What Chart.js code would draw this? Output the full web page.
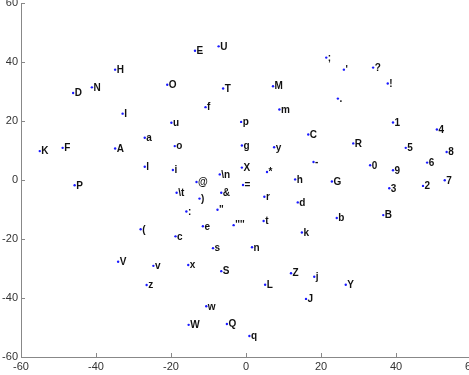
<!DOCTYPE html>
<html>
<head>
<meta charset="utf-8">
<script src="https://cdn.jsdelivr.net/npm/chart.js@4/dist/chart.umd.min.js"></script>
<style>
  html, body { margin: 0; padding: 0; background: #fff; overflow: hidden; width: 469px; height: 375px; }
  #wrap { position: absolute; left: 0; top: -20px; width: 500px; height: 400px; }
</style>
</head>
<body>
<div id="wrap"><canvas id="c" width="500" height="400"></canvas></div>
<script>
// Character embedding: each symbol is placed at its 2-D coordinate.
const symbols = [
  'H','N','D','I','E','U','O','T','M','f','m','u','p',
  ';',"'",'?','!','.','1','4',
  'K','F','A','a','l','P','(',
  'o','g','y','i','X','*','@','\\n','h','\\t','&','=',')','r','d','"',':',
  'e',"''''",'t','c','k','s','n',
  'C','R','5','8','6','-','0','9','G','7','2','3','b','B',
  'V','v','z','x','S','Z','L','w','W','Q','q','j','Y','J'
];
const xs = [
  -34.9,-41.1,-46.1,-32.9,-13.6,-7.3,-21.0,-6.1,7.2,-10.8,8.9,-19.9,-1.3,
  21.4,26.1,33.9,37.8,24.5,39.2,50.9,
  -55.0,-48.9,-34.9,-27.0,-27.0,-45.7,-28.1,
  -19.0,-1.1,7.5,-19.5,-1.1,5.6,-13.2,-7.0,13.1,-18.5,-6.6,-0.8,-12.4,4.9,13.8,-7.6,-15.9,
  -11.5,-3.3,4.7,-18.8,14.9,-8.8,1.6,
  16.6,28.6,42.6,53.5,48.3,18.0,33.1,39.2,22.9,53.0,47.2,38.2,24.2,36.6,
  -34.1,-24.7,-26.5,-15.4,-6.6,12.0,5.1,-10.6,-15.3,-5.1,0.9,18.2,26.6,16.0
];
const ys = [
  37.4,31.4,29.5,22.5,43.8,45.3,32.3,31.0,31.8,24.7,23.9,19.4,19.7,
  41.5,37.4,38.1,32.7,27.6,19.5,17.1,
  9.8,10.9,10.7,14.3,4.5,-1.8,-16.7,
  11.5,11.7,11.1,3.4,4.2,2.7,-0.7,1.9,0.2,-4.3,-4.3,-1.7,-6.3,-5.7,-7.6,-10.1,-10.7,
  -15.7,-15.3,-13.9,-19.1,-17.8,-23.1,-22.8,
  15.4,12.4,10.9,9.5,5.9,6.1,5.0,3.3,-0.5,-0.1,-2.0,-2.8,-12.9,-11.9,
  -27.7,-29.1,-35.6,-28.8,-30.9,-31.6,-35.5,-42.8,-49.1,-48.8,-52.9,-32.8,-35.5,-40.3
];
const xTicks = [-60, -40, -20, 0, 20, 40, 60];
const yTicks = [-60, -40, -20, 0, 20, 40, 60];

const points = xs.map((x, i) => ({ x: x, y: ys[i] }));

// Writes each symbol just to the right of its marker.
const symbolLabels = {
  id: 'symbolLabels',
  afterDatasetsDraw(chart) {
    const ctx = chart.ctx;
    const meta = chart.getDatasetMeta(0);
    ctx.save();
    ctx.font = 'bold 10px "Liberation Sans", Arial, sans-serif';
    ctx.fillStyle = '#111';
    ctx.textAlign = 'left';
    ctx.textBaseline = 'middle';
    meta.data.forEach((pt, i) => {
      ctx.fillText(symbols[i], pt.x + 1.5, pt.y + 0.5);
    });
    ctx.restore();
  }
};

// Short tick marks pointing into the plot area.
const innerTicks = {
  id: 'innerTicks',
  afterDraw(chart) {
    const ctx = chart.ctx;
    const xs_ = chart.scales.x, ys_ = chart.scales.y;
    const a = chart.chartArea;
    ctx.save();
    ctx.strokeStyle = '#888';
    ctx.lineWidth = 1;
    ctx.beginPath();
    xTicks.forEach(v => {
      const px = Math.round(xs_.getPixelForValue(v)) + 0.5;
      ctx.moveTo(px, a.bottom);
      ctx.lineTo(px, a.bottom - 4);
    });
    yTicks.forEach(v => {
      const py = Math.round(ys_.getPixelForValue(v)) + 0.5;
      ctx.moveTo(a.left, py);
      ctx.lineTo(a.left + 4, py);
    });
    ctx.stroke();
    ctx.restore();
  }
};

new Chart(document.getElementById('c'), {
  type: 'scatter',
  data: {
    datasets: [{
      data: points,
      pointRadius: 1.2,
      pointHoverRadius: 1.2,
      pointBackgroundColor: '#1a1aff',
      pointBorderWidth: 0,
      borderColor: '#1a1aff'
    }]
  },
  plugins: [symbolLabels, innerTicks],
  options: {
    responsive: false,
    animation: false,
    devicePixelRatio: 1,
    layout: { padding: { top: 23, right: 29, left: 0, bottom: 0 } },
    plugins: { legend: { display: false }, tooltip: { enabled: false } },
    scales: {
      x: {
        type: 'linear',
        min: -60, max: 60,
        afterBuildTicks: s => { s.ticks = xTicks.map(v => ({ value: v })); },
        afterFit: s => { s.height = 23; s.paddingLeft = 0; s.paddingRight = 0; },
        grid: { display: false, drawTicks: false },
        border: { display: true, color: '#888', width: 1 },
        ticks: { color: '#333', padding: 3, font: { family: '"Liberation Sans", Arial, sans-serif', size: 11 }, maxRotation: 0, autoSkip: false }
      },
      y: {
        type: 'linear',
        min: -60, max: 60,
        afterBuildTicks: s => { s.ticks = yTicks.map(v => ({ value: v })); },
        afterFit: s => { s.width = 21; s.paddingTop = 0; s.paddingBottom = 0; },
        grid: { display: false, drawTicks: false },
        border: { display: true, color: '#888', width: 1 },
        ticks: { color: '#333', padding: 3, font: { family: '"Liberation Sans", Arial, sans-serif', size: 11 }, autoSkip: false }
      }
    }
  }
});
</script>
</body>
</html>
